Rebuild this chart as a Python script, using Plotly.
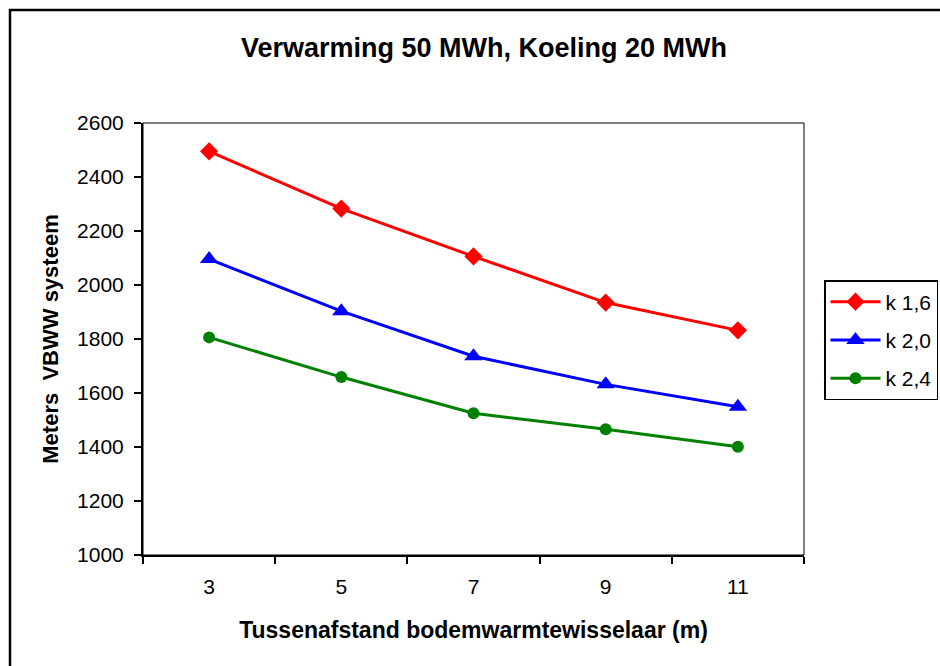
import plotly.graph_objects as go

categories = ["3", "5", "7", "9", "11"]
k16 = [2495, 2283, 2106, 1935, 1832]
k20 = [2096, 1903, 1736, 1632, 1549]
k24 = [1806, 1659, 1525, 1466, 1401]
series_names = ["k 1,6", "k 2,0", "k 2,4"]
colors = ["#FF0000", "#0000FF", "#008000"]
symbols = ["diamond", "triangle-up", "circle"]
sizes = [14, 16, 12]

FONT = "Liberation Sans, Arial, sans-serif"

W, H = 940, 666
L, R, T, B = 143, 804, 123, 555
pw, ph = R - L, B - T

def px_x(x):
    return (x - L) / pw

def px_y(y):
    return (B - y) / ph

fig = go.Figure()
for i, (name, vals) in enumerate(zip(series_names, [k16, k20, k24])):
    fig.add_trace(go.Scatter(
        x=categories, y=vals, name=name, mode="lines+markers",
        line=dict(color=colors[i], width=3),
        marker=dict(symbol=symbols[i], size=sizes[i], color=colors[i]),
        legendgroup=f"g{i}",
    ))

fig.update_layout(
    width=W, height=H,
    margin=dict(l=L, r=W - R, t=T, b=H - B, autoexpand=False),
    paper_bgcolor="white", plot_bgcolor="white",
    font=dict(family=FONT, size=21, color="black"),
    title=dict(text="<b>Verwarming 50 MWh, Koeling 20 MWh</b>",
               font=dict(family=FONT, size=27, color="black"),
               x=px_x(484), xref="paper", xanchor="center",
               y=1 - 48 / H, yref="container", yanchor="middle"),
    xaxis=dict(type="category", range=[-0.5, 4.5], tickson="boundaries",
               ticks="outside", ticklen=7, tickwidth=1.5, tickcolor="black",
               showline=True, linecolor="black", linewidth=2,
               showgrid=False, zeroline=False,
               ticklabelstandoff=12,
               title=dict(text="<b>Tussenafstand bodemwarmtewisselaar (m)</b>",
                          font=dict(family=FONT, size=23), standoff=25)),
    yaxis=dict(range=[1000, 2600], dtick=200, tick0=1000,
               ticks="outside", ticklen=7, tickwidth=1.5, tickcolor="black",
               showline=True, linecolor="black", linewidth=2,
               showgrid=False, zeroline=False,
               ticklabelstandoff=6,
               title=dict(text="<b>Meters  VBWW systeem</b>",
                          font=dict(family=FONT, size=22), standoff=12)),
    legend=dict(x=px_x(824), y=px_y(280), xanchor="left", yanchor="top",
                bordercolor="black", borderwidth=1.5, bgcolor="white",
                font=dict(family=FONT, size=21), tracegroupgap=8,
                itemwidth=50),
    showlegend=True,
)

# plot-area frame (thin top/right)
fig.add_shape(type="rect", xref="paper", yref="paper", x0=0, x1=1, y0=0, y1=1,
              line=dict(color="black", width=1))
# outer chart border
fig.add_shape(type="rect", xref="paper", yref="paper",
              x0=px_x(10), x1=px_x(1200), y0=px_y(900), y1=px_y(10),
              line=dict(color="black", width=2.5))

fig.write_html("out.html")
